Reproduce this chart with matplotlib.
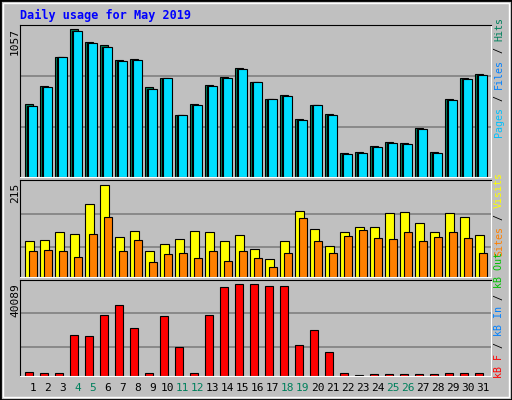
import matplotlib
matplotlib.use("Agg")
import matplotlib.pyplot as plt
from matplotlib.patches import Rectangle

days = list(range(1, 32))
weekend = [4, 5, 11, 12, 18, 19, 25, 26]

hits = [519, 648, 855, 1057, 962, 940, 833, 840, 640, 705, 441, 519, 655, 712, 776, 676,
        555, 583, 412, 512, 448, 169, 176, 219, 248, 241, 348, 176, 555, 705, 733]
files = [505, 640, 855, 1045, 955, 932, 826, 833, 632, 705, 441, 512, 648, 705, 769, 676,
         555, 576, 405, 512, 441, 162, 169, 212, 241, 233, 340, 169, 548, 698, 726]
pages = [505, 640, 855, 1045, 955, 932, 826, 833, 632, 705, 441, 512, 648, 705, 769, 676,
         555, 576, 405, 512, 441, 162, 169, 212, 241, 233, 340, 169, 548, 698, 726]
visits = [84, 86, 105, 100, 171, 215, 93, 108, 61, 77, 89, 108, 105, 84, 98, 65,
          42, 84, 154, 112, 72, 105, 117, 117, 150, 152, 126, 105, 150, 140, 98]
sites = [61, 63, 61, 47, 100, 140, 61, 86, 35, 54, 56, 44, 61, 37, 61, 44,
         23, 56, 138, 84, 56, 96, 110, 91, 89, 105, 84, 93, 105, 91, 56]
kb_f = [1900, 1460, 1460, 18140, 17700, 26480, 30870, 21210, 1460, 26040, 12870, 1460,
        26480, 38770, 40089, 40089, 39210, 39210, 13750, 20330, 10680, 1460, 585, 1020,
        1020, 1020, 1020, 1020, 1460, 1460, 1460]

W, H = 512, 400
BG = "#C0C0C0"
XMAX = 0.5 + 471 / 15
fig = plt.figure(figsize=(W / 100, H / 100), dpi=100, facecolor=BG)
mono = "DejaVu Sans Mono"


def panel(top, bottom):
    ax = fig.add_axes([20 / W, 1 - bottom / H, 471 / W, (bottom - top) / H])
    ax.set_facecolor(BG)
    ax.set_xlim(0.5, XMAX)
    ax.set_xticks([])
    ax.set_yticks([])
    for s in ax.spines.values():
        s.set_color("black")
    ax.spines["bottom"].set_color("white")
    ax.spines["right"].set_color("white")
    return ax


# --- panel superior: hits / files / pages ---
ax1 = panel(25, 177)
ax1.set_ylim(0, 1086)
for g in (357, 721):
    ax1.axhline(g, color="#808080", lw=1.2, zorder=0)
x = [d - 0.17 for d in days]
ax1.bar(x, hits, width=0.55, align="edge", color="#00805C", edgecolor="black", lw=0.8)
ax1.bar([d - 0.05 for d in days], files, width=0.55, align="edge", color="#0000FF", edgecolor="black", lw=0.8)
ax1.bar([d + 0.05 for d in days], pages, width=0.55, align="edge", color="#00E0FF", edgecolor="black", lw=0.8)

# --- panel medio: visits / sites ---
ax2 = panel(180, 277)
ax2.set_ylim(0, 227)
for g in (70, 147):
    ax2.axhline(g, color="#808080", lw=1.2, zorder=0)
ax2.bar(x, visits, width=0.6, align="edge", color="#FFFF00", edgecolor="black", lw=0.8)
ax2.bar([d + 0.1 for d in days], sites, width=0.55, align="edge", color="#FF8000", edgecolor="black", lw=0.8)

# --- panel inferior: kB ---
ax3 = panel(280, 376)
ax3.set_ylim(0, 42000)
for g in (12900, 27400):
    ax3.axhline(g, color="#808080", lw=1.2, zorder=0)
ax3.bar(x, kb_f, width=0.55, align="edge", color="#FF0000", edgecolor="black", lw=0.8)

# etiquetas de dias
for d in days:
    xf = (20 + 15 * (d + 0.35 - 0.5)) / W
    fig.text(xf, 1 - 388 / H, str(d), ha="center", va="center", fontsize=8,
             family=mono, color="#00805C" if d in weekend else "black")

# titulo y maximos
fig.text(20 / W, 1 - 15 / H, "Daily usage for May 2019", color="#0000FF", fontsize=8.5,
         family=mono, weight="bold", va="center")
for label, ytop in (("1057", 28), ("215", 183), ("40089", 283)):
    fig.text(15 / W, 1 - ytop / H, label, rotation=90, ha="center", va="top",
             fontsize=8, family=mono)

# leyendas verticales a la derecha
FS = 7.2
adv = 0.602 * FS / 72 * 100


def vlabel(parts, ybottom):
    y = ybottom
    for txt, col in parts:
        fig.text(499 / W, 1 - y / H, txt, rotation=90, ha="center", va="bottom",
                 fontsize=FS, family=mono, color=col)
        y -= len(txt) * adv


vlabel([("Pages", "#00C0FF"), (" / ", "black"), ("Files", "#0080FF"),
        (" / ", "black"), ("Hits", "#00805C")], 137)
vlabel([("Sites", "#FF8000"), (" / ", "black"), ("Visits", "#FFFF00")], 256)
vlabel([("kB F", "#FF0000"), (" / ", "black"), ("kB In", "#0080FF"),
        (" / ", "black"), ("kB Out", "#00C000")], 378)

# marco exterior
fig.patches.append(Rectangle((0, 0), 1, 1, transform=fig.transFigure, fill=False,
                             edgecolor="black", lw=2))
fig.patches.append(Rectangle((3 / W, 3 / H), 1 - 6 / W, 1 - 6 / H, transform=fig.transFigure,
                             fill=False, edgecolor="white", lw=1))

fig.savefig("out.png", dpi=100, facecolor=BG)
